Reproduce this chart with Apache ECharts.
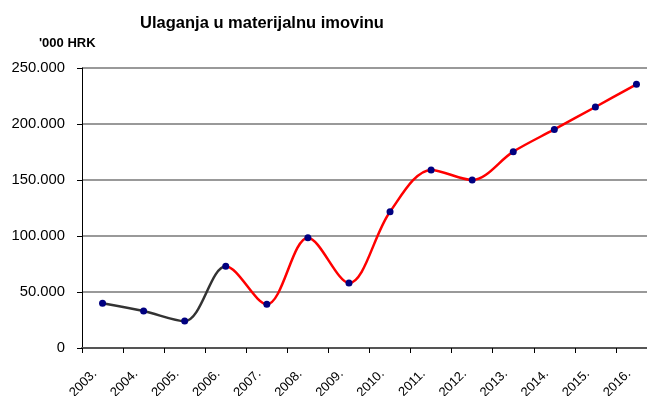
<!DOCTYPE html>
<html>
<head>
<meta charset="utf-8">
<script src="https://cdn.jsdelivr.net/npm/echarts@6/dist/echarts.min.js"></script>
<style>
  html, body { margin: 0; padding: 0; background: #fff; }
  #chart { width: 647px; height: 396px; }
</style>
</head>
<body>
<div id="chart"></div>
<script>
// Years on the category axis
const years = ['2003.', '2004.', '2005.', '2006.', '2007.', '2008.', '2009.',
               '2010.', '2011.', '2012.', '2013.', '2014.', '2015.', '2016.'];
// Investment in tangible assets, thousands of HRK
const investment = [40000, 33000, 24000, 73000, 39000, 98500, 58000,
                    121700, 159000, 150000, 175300, 195200, 215200, 235400];
// Index of the last year drawn in dark grey; the curve turns red after it
const greyUntil = 3;
// Value axis settings
const yMin = 0, yMax = 250000, yStep = 50000;

const fmt = v => v === 0 ? '0' : String(v).replace(/\B(?=(\d{3})+(?!\d))/g, '.');

const el = document.getElementById('chart');
const chart = echarts.init(el, null, { renderer: 'canvas' });
const font = 'Arial, "Liberation Sans", sans-serif';

chart.setOption({
  animation: false,
  backgroundColor: '#fff',
  grid: { left: 82, right: -10, top: 68, bottom: 48, containLabel: false,
          outerBoundsMode: 'none' },
  graphic: [
    { type: 'text', x: 262, y: 23,
      style: { text: 'Ulaganja u materijalnu imovinu', font: 'bold 16.5px ' + font,
               fill: '#000', textAlign: 'center', textVerticalAlign: 'middle' } },
    { type: 'text', x: 39, y: 43,
      style: { text: "'000 HRK", font: 'bold 13px ' + font,
               fill: '#000', textAlign: 'left', textVerticalAlign: 'middle' } }
  ],
  xAxis: {
    type: 'category',
    data: years,
    boundaryGap: true,
    axisLine: { show: true, lineStyle: { color: '#555', width: 2 } },
    axisTick: { show: true, length: 5, lineStyle: { color: '#000', width: 1 } },
    axisLabel: { interval: 0, rotate: 45, margin: 16, padding: [0, 11, 0, 0],
                 color: '#000', fontFamily: font, fontSize: 13 },
    splitLine: { show: false }
  },
  yAxis: {
    type: 'value',
    min: yMin, max: yMax, interval: yStep,
    axisLine: { show: true, lineStyle: { color: '#000', width: 1 } },
    axisTick: { show: true, length: 5, lineStyle: { color: '#000' } },
    axisLabel: { formatter: fmt, color: '#000', fontFamily: font, fontSize: 14.8, margin: 17 },
    splitLine: { show: true, lineStyle: { color: '#777', width: 1.5 } }
  },
  series: [
    {
      // the curve
      type: 'line', data: investment, smooth: 0.33,
      lineStyle: { width: 2.5, color: '#ff0000' },
      symbol: 'none', z: 3
    },
    {
      // navy markers on every year
      type: 'line', data: investment,
      lineStyle: { width: 0, opacity: 0 },
      symbol: 'circle', symbolSize: 7,
      itemStyle: { color: '#000080' }, z: 4
    }
  ]
});

// Switch the curve from grey to red at the chosen year, using the axis scale
const splitX = chart.convertToPixel({ xAxisIndex: 0 }, greyUntil);
const w = el.clientWidth;
const cut = splitX / w;
chart.setOption({
  series: [{
    lineStyle: {
      color: new echarts.graphic.LinearGradient(0, 0, w, 0, [
        { offset: 0, color: '#333333' },
        { offset: cut, color: '#333333' },
        { offset: cut, color: '#ff0000' },
        { offset: 1, color: '#ff0000' }
      ], true)
    }
  }]
});
</script>
</body>
</html>
